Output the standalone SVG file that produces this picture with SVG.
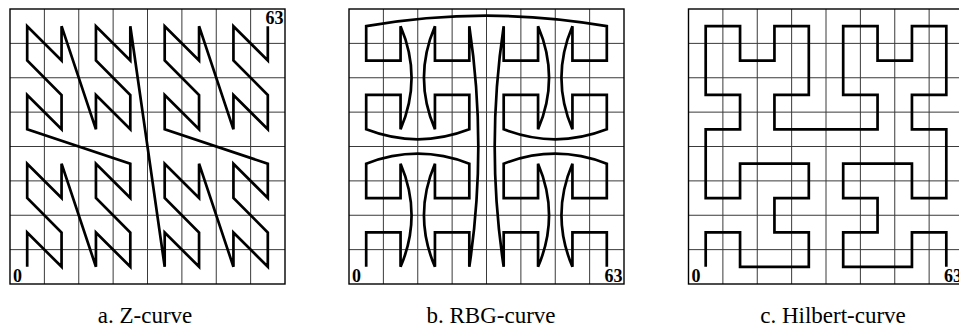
<svg xmlns="http://www.w3.org/2000/svg" xmlns:xlink="http://www.w3.org/1999/xlink" width="959" height="331" viewBox="0 0 959 331">
<style>
.gl{stroke:#3a3a3a;stroke-width:1;fill:none}
.bd{stroke:#000;stroke-width:1.4;fill:none}
.cv{stroke:#000;stroke-width:2.7;fill:none;stroke-linejoin:miter;stroke-linecap:butt}
.num{font-family:"Liberation Serif","Times New Roman",serif;font-weight:bold;font-size:18px;fill:#000}
.cap{font-family:"Liberation Serif","Times New Roman",serif;font-size:23px;fill:#000;text-anchor:middle}
</style>
<defs>
<g id="grid">
<path class="gl" d="M34.375,0V275M68.75,0V275M103.125,0V275M137.5,0V275M171.875,0V275M206.25,0V275M240.625,0V275M0,34.375H275M0,68.75H275M0,103.125H275M0,137.5H275M0,171.875H275M0,206.25H275M0,240.625H275"/>
<rect class="bd" x="0" y="0" width="275" height="275"/>
</g>
</defs>
<rect width="959" height="331" fill="#fff"/>

<g id="panel-a" transform="translate(10,9)">
<use xlink:href="#grid"/>
<polyline class="cv" points="17.19,257.81 17.19,223.44 51.56,257.81 51.56,223.44 17.19,189.06 17.19,154.69 51.56,189.06 51.56,154.69 85.94,257.81 85.94,223.44 120.31,257.81 120.31,223.44 85.94,189.06 85.94,154.69 120.31,189.06 120.31,154.69 17.19,120.31 17.19,85.94 51.56,120.31 51.56,85.94 17.19,51.56 17.19,17.19 51.56,51.56 51.56,17.19 85.94,120.31 85.94,85.94 120.31,120.31 120.31,85.94 85.94,51.56 85.94,17.19 120.31,51.56 120.31,17.19 154.69,257.81 154.69,223.44 189.06,257.81 189.06,223.44 154.69,189.06 154.69,154.69 189.06,189.06 189.06,154.69 223.44,257.81 223.44,223.44 257.81,257.81 257.81,223.44 223.44,189.06 223.44,154.69 257.81,189.06 257.81,154.69 154.69,120.31 154.69,85.94 189.06,120.31 189.06,85.94 154.69,51.56 154.69,17.19 189.06,51.56 189.06,17.19 223.44,120.31 223.44,85.94 257.81,120.31 257.81,85.94 223.44,51.56 223.44,17.19 257.81,51.56 257.81,17.19"/>
<text class="num" x="3" y="273">0</text>
<text class="num" x="273.5" y="15" text-anchor="end">63</text>
</g>

<g id="panel-b" transform="translate(349,9)">
<use xlink:href="#grid"/>
<path class="cv" d="M17.19,257.81L17.19,223.44L51.56,223.44L51.56,257.81Q73.56,206.25 51.56,154.69L51.56,189.06L17.19,189.06L17.19,154.69Q68.75,134.69 120.31,154.69L120.31,189.06L85.94,189.06L85.94,154.69Q63.94,206.25 85.94,257.81L85.94,223.44L120.31,223.44L120.31,257.81Q138.31,137.5 120.31,17.19L120.31,51.56L85.94,51.56L85.94,17.19Q63.94,68.75 85.94,120.31L85.94,85.94L120.31,85.94L120.31,120.31Q68.75,140.31 17.19,120.31L17.19,85.94L51.56,85.94L51.56,120.31Q73.56,68.75 51.56,17.19L51.56,51.56L17.19,51.56L17.19,17.19Q137.5,-3.81 257.81,17.19L257.81,51.56L223.44,51.56L223.44,17.19Q201.44,68.75 223.44,120.31L223.44,85.94L257.81,85.94L257.81,120.31Q206.25,140.31 154.69,120.31L154.69,85.94L189.06,85.94L189.06,120.31Q211.06,68.75 189.06,17.19L189.06,51.56L154.69,51.56L154.69,17.19Q136.69,137.5 154.69,257.81L154.69,223.44L189.06,223.44L189.06,257.81Q211.06,206.25 189.06,154.69L189.06,189.06L154.69,189.06L154.69,154.69Q206.25,134.69 257.81,154.69L257.81,189.06L223.44,189.06L223.44,154.69Q201.44,206.25 223.44,257.81L223.44,223.44L257.81,223.44L257.81,257.81"/>
<text class="num" x="3" y="273">0</text>
<text class="num" x="273.5" y="273" text-anchor="end">63</text>
</g>

<g id="panel-c" transform="translate(688.5,9)">
<use xlink:href="#grid"/>
<polyline class="cv" points="17.19,257.81 17.19,223.44 51.56,223.44 51.56,257.81 120.31,257.81 120.31,223.44 85.94,223.44 85.94,189.06 120.31,189.06 120.31,154.69 51.56,154.69 51.56,189.06 17.19,189.06 17.19,120.31 51.56,120.31 51.56,85.94 17.19,85.94 17.19,17.19 51.56,17.19 51.56,51.56 85.94,51.56 85.94,17.19 120.31,17.19 120.31,85.94 85.94,85.94 85.94,120.31 189.06,120.31 189.06,85.94 154.69,85.94 154.69,17.19 189.06,17.19 189.06,51.56 223.44,51.56 223.44,17.19 257.81,17.19 257.81,85.94 223.44,85.94 223.44,120.31 257.81,120.31 257.81,189.06 223.44,189.06 223.44,154.69 154.69,154.69 154.69,189.06 189.06,189.06 189.06,223.44 154.69,223.44 154.69,257.81 223.44,257.81 223.44,223.44 257.81,223.44 257.81,257.81"/>
<text class="num" x="3" y="273">0</text>
<text class="num" x="273.5" y="273" text-anchor="end">63</text>
</g>

<g id="captions">
<text class="cap" x="145" y="323">a. Z-curve</text>
<text class="cap" x="491" y="323">b. RBG-curve</text>
<text class="cap" x="833" y="323">c. Hilbert-curve</text>
</g>
</svg>
